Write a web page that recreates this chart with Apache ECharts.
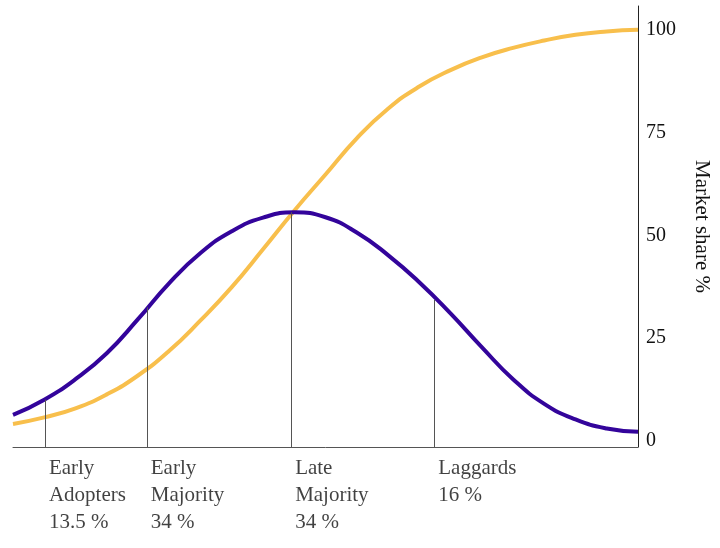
<!DOCTYPE html>
<html>
<head>
<meta charset="utf-8">
<script src="https://cdn.jsdelivr.net/npm/echarts@6/dist/echarts.min.js"></script>
<style>
html,body{margin:0;padding:0;background:#fff;}
#chart{width:720px;height:548px;}
</style>
</head>
<body>
<div id="chart"></div>
<script>
// Horizontal position across the plot (0 = left edge, 100 = right edge)
const positions = [0, 5, 10, 15, 20, 25, 30, 35, 40, 45, 50, 55, 60, 65, 70, 75, 80, 85, 90, 95, 100];
// Adoption (bell) curve, market share %
const adoption = [6.3, 10.0, 15.0, 21.3, 29.6, 38.4, 45.7, 51.0, 54.3, 55.6, 54.4, 50.7, 45.2, 38.6, 31.0, 22.8, 15.0, 9.0, 5.2, 3.0, 2.2];
// Cumulative market share (S curve), %
const cumulative = [4.1, 5.7, 7.9, 11.3, 15.9, 21.9, 29.3, 37.4, 46.6, 56.0, 64.8, 73.6, 80.8, 86.2, 90.2, 93.3, 95.6, 97.4, 98.8, 99.6, 100];
// Segment boundaries (position) and the curve height where each divider ends
const boundaries = [5.1, 21.4, 44.5, 67.4];
const boundaryHeights = [10.0, 32.5, 55.6, 34.3];
const segmentLabels = ['Early\nAdopters\n13.5 %', 'Early\nMajority\n34 %', 'Late\nMajority\n34 %', 'Laggards\n16 %'];
const yTicks = [0, 25, 50, 75, 100];
const yMin = -1.5, yMax = 105.8;

const font = '"Liberation Serif", "Times New Roman", serif';
const zip = (xs, ys) => xs.map((x, i) => [x, ys[i]]);

const chart = echarts.init(document.getElementById('chart'));
chart.setOption({
  animation: false,
  grid: { left: 13, right: 81, top: 6, bottom: 101 },
  xAxis: {
    type: 'value', min: 0, max: 100,
    axisLine: { show: true, onZero: false, lineStyle: { color: '#555', width: 1 } },
    axisTick: { show: false }, axisLabel: { show: false }, splitLine: { show: false }
  },
  yAxis: {
    type: 'value', position: 'right', min: yMin, max: yMax,
    name: 'Market share %', nameLocation: 'middle', nameRotate: -90, nameGap: 53,
    nameTextStyle: { fontFamily: font, fontSize: 21, color: '#111' },
    axisLine: { show: true, onZero: false, lineStyle: { color: '#222', width: 1 } },
    axisTick: { show: false },
    splitLine: { show: false },
    axisLabel: { customValues: yTicks, fontFamily: font, fontSize: 20, color: '#111', margin: 8 }
  },
  series: [
    {
      type: 'line', data: zip(positions, cumulative), smooth: 0.5, symbol: 'none',
      lineStyle: { color: '#f8bf4c', width: 4 }, z: 3
    },
    {
      type: 'line', data: zip(positions, adoption), smooth: 0.5, symbol: 'none',
      lineStyle: { color: '#33049b', width: 4 }, z: 4,
      markLine: {
        silent: true, symbol: 'none', animation: false,
        label: { show: false },
        lineStyle: { color: '#555', width: 1, type: 'solid' },
        data: boundaries.map((b, i) => [{ coord: [b, yMin] }, { coord: [b, boundaryHeights[i]] }])
      }
    },
    {
      type: 'scatter', symbolSize: 0, silent: true,
      data: boundaries.map((b, i) => ({ value: [b, yMin], name: segmentLabels[i] })),
      label: {
        show: true, position: [4, 8], align: 'left', verticalAlign: 'top',
        formatter: p => p.name,
        fontFamily: font, fontSize: 21, lineHeight: 27, color: '#111'
      }
    }
  ]
});
</script>
</body>
</html>
